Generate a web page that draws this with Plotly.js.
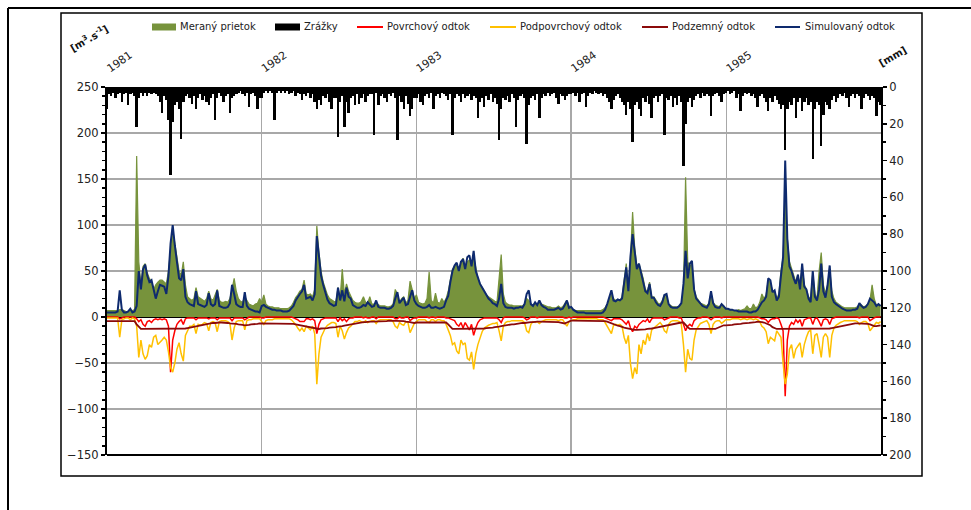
<!DOCTYPE html>
<html>
<head>
<meta charset="utf-8">
<script src="https://cdn.plot.ly/plotly-3.0.1.min.js"></script>
<style>
  html, body { margin: 0; padding: 0; background: #fff; }
  #chart { width: 971px; height: 510px; }
</style>
</head>
<body>
<div id="chart"></div>
<script>
// ---- data (5-day steps from 1981-01-01 to 1985-12-31) ----
const startDate = '1981-01-01';
const stepDays = 5;
const yearTicks = ['1981-01-01', '1982-01-01', '1983-01-01', '1984-01-01', '1985-01-01'];
const yearLabels = ['1981', '1982', '1983', '1984', '1985'];
const seriesNames = ['Meraný prietok', 'Zrážky', 'Povrchový odtok', 'Podpovrchový odtok', 'Podzemný odtok', 'Simulovaný odtok'];

// Meraný prietok [m3/s]
const measured = [
  7,7,7,7,7,7,8,8,7,6, 6,7,7,8,175,60,35,55,58,48, 42,38,30,35,38,40,40,38,36,50, 75,95,80,65,50,45,60,35,22,20, 18,20,32,22,20,18,17,20,28,20, 18,24,30,18,16,16,17,16,20,30, 42,28,20,17,16,22,18,14,13,12, 14,15,20,
  16,24,14,12,11,11,10,10,10,9, 9,9,9,10,12,16,21,24,28,30, 40,25,24,25,22,30,99,70,50,38, 30,24,20,18,17,16,32,20,52,25, 36,28,22,18,16,15,15,17,22,16, 15,22,14,14,15,13,12,12,12,11, 11,12,14,30,25,16,20,22,15,18, 39,30,20,
  24,16,15,14,15,20,49,18,15,26, 16,15,20,16,20,28,40,52,55,58, 52,58,64,55,60,62,58,66,52,42, 36,32,28,24,22,20,18,17,16,40, 68,25,16,14,13,13,12,12,12,12, 12,14,20,18,14,13,15,14,16,14, 13,12,11,11,10,10,10,12,10,11, 14,18,12,
  8,8,7,7,7,7,7,7,7,7, 7,7,7,7,7,8,10,14,20,24, 20,18,19,18,22,40,58,30,65,114, 75,55,58,50,42,30,28,38,22,22, 18,15,14,18,24,22,14,12,11,11, 11,12,14,30,152,60,55,58,30,22, 18,15,14,13,12,15,26,16,13,12, 11,14,12,
  8,8,8,7,7,7,8,7,8,9, 12,9,9,14,10,11,16,25,20,24, 40,38,28,28,20,25,50,65,125,85, 60,52,45,38,46,32,55,35,30,22, 20,48,25,20,50,70,35,25,35,52, 28,20,16,14,12,11,10,10,10,10, 10,10,11,14,13,11,12,14,18,35, 20,13,14,12
];

// Simulovaný odtok [m3/s]
const simulated = [
  5,5,5,5,5,6,29,8,5,5, 6,9,5,6,12,50,30,52,57,45, 38,40,28,20,28,35,34,33,25,45, 80,100,78,62,42,40,52,22,16,14, 13,12,28,14,13,12,11,13,26,14, 12,14,29,12,11,10,10,11,15,35, 25,14,12,11,11,27,12,9,8,7, 6,6,5,
  12,13,11,10,9,8,8,7,7,7, 6,6,6,7,9,12,18,22,25,28, 35,20,21,22,18,25,88,65,45,35, 26,19,15,13,12,13,32,18,29,17, 32,22,20,13,11,10,10,11,13,12, 16,13,11,12,18,11,10,10,10,9, 9,10,12,20,27,15,18,21,13,14, 22,29,18,
  14,12,11,10,10,11,13,10,10,11, 10,9,10,11,18,23,38,50,56,59, 50,60,63,52,65,67,55,72,50,43, 36,32,28,23,20,18,15,14,12,20, 36,15,11,10,10,10,9,10,10,11, 10,14,25,29,14,12,16,13,18,13, 11,10,8,8,8,8,9,10,8,9, 13,18,10,
  11,8,6,5,5,5,5,4,4,4, 4,4,4,4,4,5,8,14,22,29, 18,17,19,18,20,36,54,28,66,90, 70,52,58,48,40,28,26,36,21,21, 16,13,12,16,24,25,14,11,10,10, 10,12,15,36,72,42,58,61,30,20, 17,14,12,11,10,14,28,15,11,10, 10,14,11,
  9,9,8,8,7,7,6,6,6,6, 6,5,5,6,6,8,12,16,18,22, 42,40,27,29,18,22,45,65,170,85, 55,50,42,36,46,30,58,33,30,20, 16,50,22,18,30,58,28,21,35,56, 22,16,14,12,11,9,8,7,7,7, 8,8,9,15,12,10,11,14,20,18, 16,12,14,12
];

// Povrchový odtok [m3/s] (drawn negative)
const surface = [
  0,0,0,0,0,0,-2,-1,0,0, 0,0,0,0,-2,-5,-3,-8,-10,-5, -4,-6,-3,-2,-3,-2,-3,-2,-3,-10, -60,-25,-15,-8,-5,-3,-8,-2,-1,-1, -1,-1,-3,-1,-1,-1,-1,-1,-2,-1, -1,-1,-3,-1,-1,-1,-1,-1,-1,-4, -1,-1,-1,-1,-1,-3,-1,0,0,0, 0,0,0,
  -1,-1,0,0,0,0,0,0,0,0, 0,0,0,0,0,-1,-2,-3,-5,-5, -5,-2,-2,-3,-2,-4,-18,-8,-3,-2, -1,-1,-1,-1,-1,-1,-5,-1,-4,-2, -5,-2,-1,-1,0,0,0,0,-1,0, -1,-1,0,0,-2,0,0,0,0,0, 0,0,0,-2,-2,0,-1,-1,0,0, -4,-2,-1,
  -1,0,0,0,0,0,-1,0,0,-1, 0,0,0,0,-1,-1,-2,-3,-4,-8, -10,-6,-12,-6,-10,-14,-8,-20,-12,-6, -3,-2,-1,-1,-1,-1,-1,-1,-1,-3, -6,-1,0,0,0,0,0,0,0,0, 0,-1,-3,-2,0,0,0,-1,0,0, 0,0,0,0,0,0,0,0,0,0, -1,-1,0,
  -1,0,0,0,0,0,0,0,0,0, 0,0,0,0,0,0,-1,-2,-3,-4, -2,-2,-2,-2,-3,-5,-8,-4,-12,-16, -10,-12,-8,-6,-4,-5,-2,-6,-2,-1, -1,-1,-1,-1,-3,-2,-1,0,0,0, 0,-1,-1,-8,-15,-10,-8,-10,-4,-2, -1,-1,0,0,0,-1,-3,-1,0,0, 0,-1,0,
  0,0,0,0,0,0,0,0,0,0, 0,0,0,0,0,0,-1,-2,-2,-3, -6,-3,-2,-2,-1,-2,-8,-15,-86,-25, -10,-6,-8,-3,-6,-3,-10,-3,-2,-1, -1,-8,-2,-1,-5,-10,-3,-2,-3,-8, -2,-1,0,0,0,0,0,0,0,0, 0,0,0,-1,0,0,0,0,-4,-2, -1,0,0,0
];

// Podpovrchový odtok [m3/s] (drawn negative)
const subsurface = [
  -1,-1,-1,-1,-1,-1,-22,-3,-2,-1, -1,-3,-1,-2,-10,-44,-25,-40,-46,-42, -30,-33,-22,-20,-30,-28,-25,-22,-25,-38, -55,-60,-50,-35,-28,-40,-48,-20,-14,-10, -10,-8,-18,-8,-9,-8,-6,-7,-15,-6, -5,-6,-16,-5,-4,-4,-4,-5,-7,-25, -12,-5,-4,-4,-4,-14,-4,-3,-3,-2, -2,-2,-2,
  -5,-8,-4,-3,-3,-3,-2,-2,-2,-2, -2,-2,-2,-2,-3,-5,-8,-12,-15,-12, -16,-10,-12,-14,-10,-18,-73,-40,-22,-16, -12,-9,-7,-6,-6,-7,-22,-10,-15,-24, -17,-12,-10,-7,-5,-5,-4,-5,-6,-4, -6,-5,-4,-4,-7,-4,-3,-3,-3,-3, -3,-3,-5,-10,-12,-6,-8,-9,-5,-6, -17,-12,-7,
  -5,-3,-3,-3,-3,-5,-6,-3,-3,-5, -3,-3,-4,-4,-8,-14,-20,-30,-28,-37, -40,-25,-30,-28,-45,-47,-38,-57,-40,-30, -22,-16,-12,-10,-9,-8,-7,-7,-6,-15, -26,-10,-6,-5,-5,-4,-4,-4,-4,-4, -4,-6,-15,-17,-8,-5,-6,-5,-7,-5, -4,-3,-3,-3,-3,-3,-3,-4,-3,-3, -6,-10,-5,
  -4,-3,-3,-2,-2,-2,-2,-2,-2,-2, -2,-2,-2,-3,-3,-3,-6,-10,-13,-18, -9,-8,-9,-8,-10,-22,-29,-20,-51,-67, -55,-62,-30,-40,-25,-30,-18,-26,-14,-12, -9,-7,-6,-9,-15,-17,-8,-5,-4,-4, -4,-5,-8,-30,-60,-35,-45,-47,-25,-14, -10,-7,-6,-5,-4,-8,-18,-8,-5,-4, -4,-7,-5,
  -3,-3,-3,-2,-2,-2,-2,-3,-2,-2, -3,-2,-2,-3,-2,-3,-5,-10,-12,-16, -29,-22,-24,-26,-15,-18,-22,-50,-73,-62, -35,-30,-45,-35,-32,-28,-44,-30,-22,-16, -14,-40,-20,-18,-30,-44,-22,-18,-22,-44, -20,-12,-9,-7,-6,-5,-4,-4,-4,-4, -4,-4,-5,-8,-6,-5,-5,-7,-15,-12, -8,-6,-7,-5
];

// Podzemný odtok [m3/s] (drawn negative)
const groundwater = [
  -4.5,-4.5,-4.5,-4.5,-4.5,-4.5,-4.5,-4.5,-4.5,-4.5, -4.5,-4.5,-4.5,-4.5,-8,-11,-13,-13,-13,-13, -13,-13,-13,-13,-13,-13,-13,-13,-13,-13, -13,-13,-13,-13,-13,-13,-13,-12.5,-12,-11.5, -11,-10.5,-10,-9.5,-9,-8.5,-8,-7.5,-7,-7, -6.5,-6.5,-6,-6,-6,-6,-6,-6.5,-7,-7, -7.5,-7.5,-8,-8,-8.5,-9,-9,-8.5,-8,-8, -7.5,-7.5,-7,
  -7,-7,-7,-7,-7,-7,-7,-7,-7,-7, -7,-7,-7,-7,-7,-7.5,-8,-8.5,-9,-9.5, -10,-10.5,-11,-11.5,-12,-12.5,-13,-13,-12.5,-12.5, -12,-12,-11.5,-11.5,-11,-11,-10.5,-10.5,-10,-9.5, -9,-8.5,-8,-7.5,-7,-6.5,-6,-6,-5.5,-5.5, -5,-5,-5,-5,-5,-4.5,-4.5,-4.5,-4.5,-4.5, -4,-4,-4,-4,-4,-4,-4.5,-4.5,-5,-5, -5.5,-6,-6.5,
  -6,-6,-6,-6,-6,-6,-6,-6,-6,-6, -6,-6,-6,-6,-6,-8,-11,-13,-13,-13, -13,-13,-13,-13,-13,-13,-13,-13,-13,-13, -13,-12.5,-12.5,-12,-12,-11.5,-11.5,-11,-11,-10.5, -10,-9.5,-9,-8.5,-8.5,-8,-8,-7.5,-7,-7, -6.5,-6.5,-6,-6,-5.5,-5.5,-5,-5,-5,-5, -5,-5,-5,-5,-5,-5,-5.5,-5.5,-6,-6.5, -7,-6,-5,
  -4,-4,-4,-4,-4,-4,-4,-4,-4,-4, -4,-4,-4,-4,-4,-4,-4.5,-5,-6,-7, -8,-9,-9.5,-10,-11,-11.5,-12,-12.5,-13,-14, -14,-14,-14,-14,-14,-13.5,-13,-13,-12.5,-12, -11.5,-11,-10.5,-10,-9.5,-9,-8.5,-8,-7.5,-7, -6.5,-6.5,-6,-6,-9,-11,-13,-13,-13,-13, -13,-13,-13,-13,-13,-13,-13,-13,-13,-12, -11,-10,-9,
  -9,-9,-8.5,-8.5,-8,-8,-7.5,-7.5,-7,-7, -6.5,-6.5,-6,-6,-5.5,-5,-5,-5.5,-6,-7, -8,-9,-11,-12,-13,-13,-13,-13,-13,-13, -13,-13,-13,-13,-13,-13,-13,-13,-13,-13, -13,-13,-13,-13,-13,-13,-13,-13,-13,-12.5, -12,-11.5,-11,-10.5,-10,-9.5,-9,-8.5,-8,-7.5, -7.5,-7,-7,-7,-7,-7,-7,-7.5,-8,-9, -10,-10,-9.5,-9
];

// Zrážky [mm]
const precipitation = [
  12,4,5,3,6,4,3,8,4,3, 10,4,3,5,22,6,3,5,3,5, 3,4,3,4,5,8,14,5,7,18, 48,19,10,8,12,28,8,5,4,6, 9,5,12,6,4,7,5,8,10,6, 4,18,6,3,5,8,5,4,14,6, 5,4,3,2,4,5,3,11,4,3, 5,12,6,
  6,3,2,3,2,3,18,3,2,3, 2,3,2,4,3,2,5,3,4,7, 4,5,3,6,4,8,12,7,10,5, 6,4,8,12,6,6,27,8,5,22, 8,14,6,5,10,4,9,6,4,8, 5,4,4,26,3,10,5,4,6,8, 4,5,3,6,29,5,8,12,5,9, 16,12,6,
  6,4,8,10,5,4,6,3,12,5, 4,6,3,4,5,7,4,26,6,4, 5,8,4,6,5,4,7,5,6,17, 8,6,11,5,7,4,8,6,9,29, 12,6,7,5,8,4,6,22,7,5, 4,6,31,10,6,5,7,4,17,6, 4,5,3,5,4,3,6,9,4,5, 7,5,4,
  4,3,5,3,8,4,3,11,5,3, 4,2,3,4,3,5,4,6,8,12, 7,5,4,6,8,10,15,8,12,30, 10,8,12,16,6,8,5,9,17,6, 5,8,5,4,26,6,7,5,11,6, 10,5,8,43,20,8,6,11,7,5, 4,6,3,5,4,5,16,5,4,3, 5,8,4,
  3,2,4,3,2,6,4,13,5,3, 4,3,5,4,6,11,5,4,6,8, 13,6,8,5,7,9,12,10,34,12, 8,10,6,17,8,6,13,8,6,10, 8,39,12,8,10,32,15,8,10,12, 7,5,8,6,4,5,3,6,11,5, 4,6,4,5,12,6,4,5,7,5, 6,16,8,10
];

// ---- build dates ----
const DAY = 86400000;
const t0 = Date.parse(startDate + 'T00:00:00Z');
const dates = measured.map((_, i) => new Date(t0 + i * stepDays * DAY).toISOString().slice(0, 10));

const FONT = 'DejaVu Sans, Verdana, sans-serif';
const GRID = '#a8a8a8';
const COLORS = ['#77933C', '#000000', '#FF0000', '#FFC000', '#8B0A0A', '#0E2A6E'];

// pixel helpers for paper coords (plot area: x 107..881, y 87..455)
const PL = 107, PR = 881, PT = 87, PB = 455;
const px = x => (x - PL) / (PR - PL);
const py = y => (PB - y) / (PB - PT);

const traces = [
  { name: seriesNames[0], x: dates, y: measured, type: 'scatter', mode: 'lines',
    fill: 'tozeroy', fillcolor: COLORS[0], line: { color: COLORS[0], width: 1.2 }, yaxis: 'y' },
  { name: seriesNames[1], x: dates, y: precipitation, type: 'bar', yaxis: 'y2',
    width: stepDays * DAY * 1.15, marker: { color: COLORS[1], line: { width: 0 } } },
  { name: seriesNames[2], x: dates, y: surface, type: 'scatter', mode: 'lines',
    line: { color: COLORS[2], width: 1.5 }, yaxis: 'y' },
  { name: seriesNames[3], x: dates, y: subsurface, type: 'scatter', mode: 'lines',
    line: { color: COLORS[3], width: 1.5 }, yaxis: 'y' },
  { name: seriesNames[4], x: dates, y: groundwater, type: 'scatter', mode: 'lines',
    line: { color: COLORS[4], width: 1.8 }, yaxis: 'y' },
  { name: seriesNames[5], x: dates, y: simulated, type: 'scatter', mode: 'lines',
    line: { color: COLORS[5], width: 2 }, yaxis: 'y' }
];

// legend entries laid out like the original (symbol span and text start in px)
const legendItems = [
  { kind: 'patch', x0: 152, x1: 176, tx: 178 },
  { kind: 'patch', x0: 275, x1: 300, tx: 302 },
  { kind: 'line',  x0: 357, x1: 383, tx: 385 },
  { kind: 'line',  x0: 490, x1: 516, tx: 518 },
  { kind: 'line',  x0: 642, x1: 668, tx: 670 },
  { kind: 'line',  x0: 775, x1: 800, tx: 803 }
];
const LEG_Y = 27;
const legendShapes = legendItems.map((it, k) => it.kind === 'patch'
  ? { type: 'rect', xref: 'paper', yref: 'paper', x0: px(it.x0), x1: px(it.x1), y0: py(LEG_Y + 3.5), y1: py(LEG_Y - 3.5),
      fillcolor: COLORS[k], line: { width: 0 } }
  : { type: 'line', xref: 'paper', yref: 'paper', x0: px(it.x0), x1: px(it.x1), y0: py(LEG_Y), y1: py(LEG_Y),
      line: { color: COLORS[k], width: 2 } });
const legendTexts = legendItems.map((it, k) => ({
  text: seriesNames[k], xref: 'paper', yref: 'paper', x: px(it.tx), y: py(LEG_Y),
  xanchor: 'left', yanchor: 'middle', showarrow: false,
  font: { family: FONT, size: 10, color: '#222' }
}));

const layout = {
  width: 971, height: 510,
  margin: { l: PL, r: 971 - PR, t: PT, b: 510 - PB, pad: 0 },
  paper_bgcolor: '#ffffff', plot_bgcolor: '#ffffff',
  font: { family: FONT, size: 11, color: '#222' },
  showlegend: false,
  bargap: 0,
  xaxis: {
    type: 'date', range: ['1981-01-01', '1986-01-01'], side: 'top',
    tickmode: 'array', tickvals: yearTicks, ticktext: yearLabels,
    tickangle: -35, ticks: '', showline: false, zeroline: false,
    showgrid: true, gridcolor: GRID, gridwidth: 1.5,
    tickfont: { family: FONT, size: 11, color: '#222' }, ticklabelstandoff: 10,
    fixedrange: true
  },
  yaxis: {
    range: [-150, 250], dtick: 50, tick0: 0,
    ticks: 'outside', ticklen: 4, tickwidth: 1.5, tickcolor: '#000',
    showline: true, linecolor: '#000', linewidth: 2,
    showgrid: true, gridcolor: GRID, gridwidth: 1.5,
    zeroline: true, zerolinecolor: '#000', zerolinewidth: 1.5,
    minor: { dtick: 10, ticks: 'outside', ticklen: 3, tickwidth: 1.5, tickcolor: '#000', showgrid: false },
    tickfont: { family: FONT, size: 11.5, color: '#222' },
    fixedrange: true
  },
  yaxis2: {
    overlaying: 'y', side: 'right', range: [200, 0], dtick: 20, tick0: 0,
    ticks: 'outside', ticklen: 4, tickwidth: 1.5, tickcolor: '#000',
    showline: true, linecolor: '#000', linewidth: 2,
    showgrid: false, zeroline: false,
    minor: { dtick: 10, ticks: 'outside', ticklen: 3, tickwidth: 1.5, tickcolor: '#000', showgrid: false },
    tickfont: { family: FONT, size: 11.5, color: '#222' },
    fixedrange: true
  },
  shapes: [
    // bottom axis line
    { type: 'line', xref: 'paper', yref: 'paper', x0: 0, x1: 1, y0: 0, y1: 0, line: { color: '#000', width: 2 } },
    // inner chart box
    { type: 'rect', xref: 'paper', yref: 'paper', x0: px(61), x1: px(922), y0: py(476), y1: py(13), line: { color: '#000', width: 1.5 } },
    // outer frame (top and left)
    { type: 'line', xref: 'paper', yref: 'paper', x0: px(8), x1: px(975), y0: py(8), y1: py(8), line: { color: '#000', width: 2 } },
    { type: 'line', xref: 'paper', yref: 'paper', x0: px(8), x1: px(8), y0: py(8), y1: py(515), line: { color: '#000', width: 2 } }
  ].concat(legendShapes),
  annotations: [
    { text: '<b>[m<sup>3</sup>.s<sup>-1</sup>]</b>', xref: 'paper', yref: 'paper', x: px(89), y: py(38),
      xanchor: 'center', yanchor: 'middle',
      showarrow: false, textangle: -30, font: { family: FONT, size: 10, color: '#111' } },
    { text: '<b>[mm]</b>', xref: 'paper', yref: 'paper', x: px(893), y: py(57),
      xanchor: 'center', yanchor: 'middle',
      showarrow: false, textangle: -30, font: { family: FONT, size: 10, color: '#111' } }
  ].concat(legendTexts)
};

Plotly.newPlot('chart', traces, layout, { staticPlot: true, displayModeBar: false });
</script>
</body>
</html>
